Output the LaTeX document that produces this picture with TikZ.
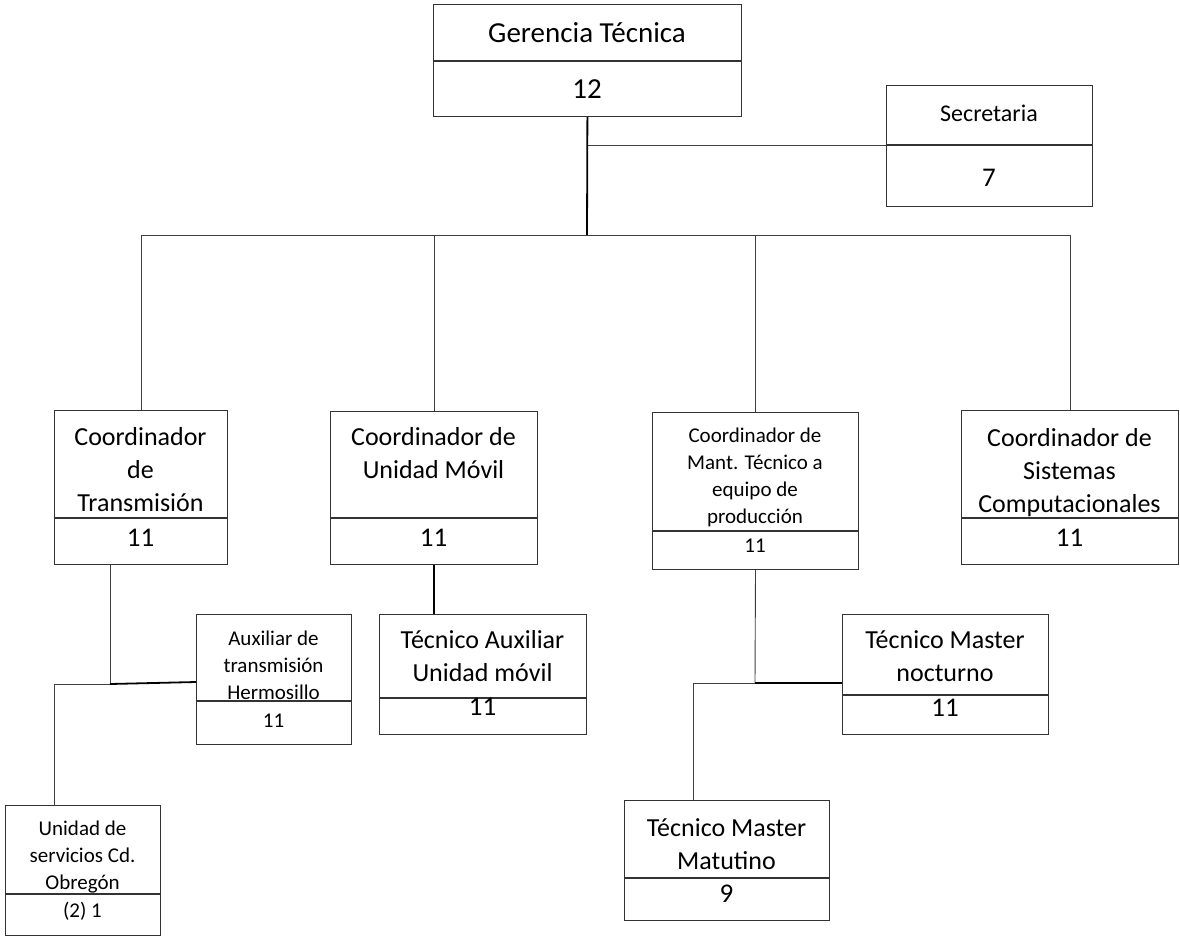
\documentclass[tikz,border=0pt]{standalone}
\usepackage{fontspec}
\setmainfont{Carlito}
\usetikzlibrary{positioning}

\begin{document}
\begin{tikzpicture}[x=1pt, y=-1pt,
  part/.style={draw=black!80, line width=1pt, inner sep=0pt},
  lbl/.style={anchor=north, inner sep=0pt, align=center, font=\fontsize{26}{33}\selectfont},
  lbls/.style={anchor=north, inner sep=0pt, align=center, font=\fontsize{21}{27}\selectfont},
  val/.style={anchor=base, inner sep=0pt, font=\fontsize{27}{33}\selectfont},
  vals/.style={anchor=base, inner sep=0pt, font=\fontsize{21}{27}\selectfont},
  conn/.style={draw=black!75, line width=0.9pt},
  connb/.style={draw=black, line width=1.8pt}]
\useasboundingbox (0,0) rectangle (1180,937);
% gerencia y secretaria
\node[part, minimum width=308pt, minimum height=56pt, anchor=north west] (ger) at (433,4) {};
\node[part, minimum width=308pt, minimum height=55pt, below=0pt of ger] (gerN) {};
\node[val, font=\fontsize{29}{35}\selectfont] (gerL) at (587,42) {Gerencia Técnica};
\node[val, font=\fontsize{29}{35}\selectfont] (gerV) at (587,98) {12};
\node[part, minimum width=206pt, minimum height=59pt, anchor=north west] (sec) at (886,85) {};
\node[part, minimum width=206pt, minimum height=61pt, below=0pt of sec] (secN) {};
\node[val, font=\fontsize{24}{30}\selectfont] (secL) at (989,121) {Secretaria};
\node[val] (secV) at (989,186) {7};
\coordinate (hub) at (587,235);
\draw[connb] (gerN) -- (hub);
\draw[conn] (gerN.south |- sec.south west) -- (sec.south west);
% coordinadores
\node[part, minimum width=173pt, minimum height=107pt, anchor=north west] (ctrans) at (54,410) {};
\node[part, minimum width=173pt, minimum height=46pt, below=0pt of ctrans] (ctransN) {};
\node[lbl] (ctransL) at (140.5,421.9) {\strut Coordinador\\de\\Transmisión};
\node[val] (ctransV) at (140.5,546) {11};
\node[part, minimum width=207pt, minimum height=106pt, anchor=north west] (cmovil) at (330,411) {};
\node[part, minimum width=207pt, minimum height=46pt, below=0pt of cmovil] (cmovilN) {};
\node[lbl] (cmovilL) at (433.5,421.9) {\strut Coordinador de\\Unidad Móvil};
\node[val] (cmovilV) at (433.5,546) {11};
\node[part, minimum width=206pt, minimum height=118pt, anchor=north west] (cmant) at (652,412) {};
\node[part, minimum width=206pt, minimum height=38pt, below=0pt of cmant] (cmantN) {};
\node[lbls] (cmantL) at (755,423.1) {\strut Coordinador de\\Mant. Técnico a\\equipo de\\producción};
\node[vals] (cmantV) at (755,552) {11};
\node[part, minimum width=217pt, minimum height=107pt, anchor=north west] (csist) at (961,410) {};
\node[part, minimum width=217pt, minimum height=46pt, below=0pt of csist] (csistN) {};
\node[lbl] (csistL) at (1069.5,422.9) {\strut Coordinador de\\Sistemas\\Computacionales};
\node[val] (csistV) at (1069.5,546) {11};
\draw[conn] (hub) -| (ctrans);
\draw[conn] (hub) -| (cmovil);
\draw[conn] (hub) -| (cmant);
\draw[conn] (hub) -| (csist);
% rama transmision
\node[part, minimum width=155pt, minimum height=86pt, anchor=north west] (auxtrans) at (196,614) {};
\node[part, minimum width=155pt, minimum height=43pt, below=0pt of auxtrans] (auxtransN) {};
\node[lbls] (auxtransL) at (273.5,626.1) {\strut Auxiliar de\\transmisión\\Hermosillo};
\node[vals] (auxtransV) at (273.5,727) {11};
\node[part, minimum width=155pt, minimum height=88pt, anchor=north west] (uobr) at (5,805) {};
\node[part, minimum width=155pt, minimum height=41pt, below=0pt of uobr] (uobrN) {};
\node[lbls] (uobrL) at (82.5,816.1) {\strut Unidad de\\servicios Cd.\\Obregón};
\node[vals] (uobrV) at (82.5,917) {(2) 1};
\coordinate (tj) at (110,684);
\coordinate (uj) at (54,684);
\draw[conn] (tj |- ctransN.south) -- (tj) -- (uj) -- (uj |- uobr.north);
\draw[connb] (tj) -- ([yshift=19pt]auxtrans.south west);
% rama unidad movil
\node[part, minimum width=207pt, minimum height=83pt, anchor=north west] (tecaux) at (379,614) {};
\node[part, minimum width=207pt, minimum height=36pt, below=0pt of tecaux] (tecauxN) {};
\node[lbl] (tecauxL) at (482.5,624.9) {\strut Técnico Auxiliar\\Unidad móvil};
\node[val] (tecauxV) at (482.5,715) {11};
\draw[connb] (cmovilN.south) -- (cmovilN.south |- tecaux.north);
% rama mantenimiento
\node[part, minimum width=206pt, minimum height=80pt, anchor=north west] (tmnoc) at (842,614) {};
\node[part, minimum width=206pt, minimum height=39pt, below=0pt of tmnoc] (tmnocN) {};
\node[lbl] (tmnocL) at (945,624.9) {\strut Técnico Master\\nocturno};
\node[val] (tmnocV) at (945,716) {11};
\node[part, minimum width=205pt, minimum height=77pt, anchor=north west] (tmmat) at (624,800) {};
\node[part, minimum width=205pt, minimum height=42pt, below=0pt of tmmat] (tmmatN) {};
\node[lbl] (tmmatL) at (726.5,812.9) {\strut Técnico Master\\Matutino};
\node[val] (tmmatV) at (726.5,902) {9};
\coordinate (mj) at (755,683);
\coordinate (mk) at (693,683);
\draw[conn] (cmantN.south) -- (mj);
\draw[connb] (mj) -- (tmnoc.west |- mj);
\draw[conn] (mj) -- (mk) -- (mk |- tmmat.north);
\end{tikzpicture}
\end{document}
